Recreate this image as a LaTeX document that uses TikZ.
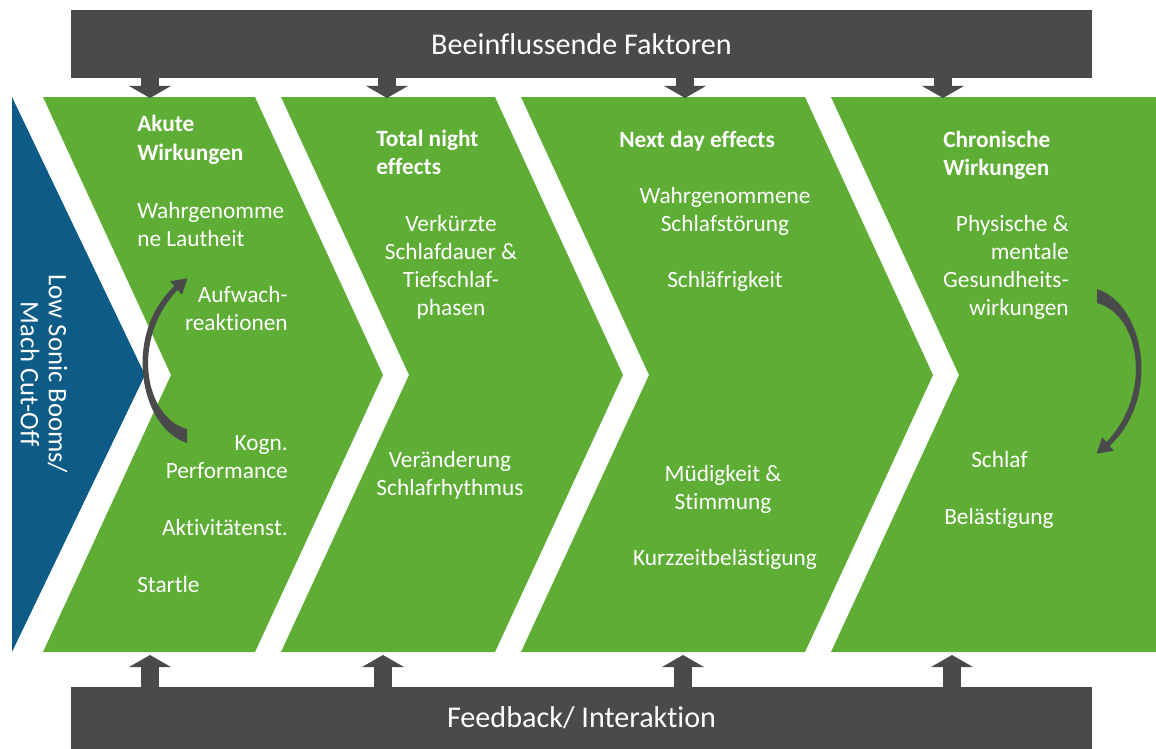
\documentclass[tikz,border=0pt]{standalone}
\usepackage{fontspec}
\setmainfont{Carlito}[Ligatures=NoCommon]
\usetikzlibrary{arrows.meta}

\definecolor{panelgreen}{HTML}{5EAD35}
\definecolor{boomblue}{HTML}{0C5C87}
\definecolor{bargray}{HTML}{4A4A4C}

\tikzset{
	bar/.style = {fill=bargray, text=white, font=\fontsize{22.6}{26}\selectfont, minimum width=765.75pt, minimum height=51pt, inner sep=0pt},
	blockarrow/.style = {draw=bargray, line width=13pt, -{Triangle[width=31pt,length=9pt]}},
	item/.style = {text=white, font=\fontsize{17.5}{21}\selectfont, inner sep=0pt},
	itemhead/.style = {item, font=\bfseries\fontsize{17.5}{21}\selectfont},
	bentarrow/.pic = {\fill [bargray] (0,0) .. controls (-47,-15) and (-65,-108) .. (-12.6,-156.9) -- (-16.8,-161.8) -- (0.4,-164.7) -- (-5.1,-148.2) -- (-9.4,-153.1) .. controls (-57,-103) and (-42,-25) .. (0,-14) -- cycle ;}
}

\begin{document}
\begin{tikzpicture} [x = 0.75pt, y = -0.75pt]
	\useasboundingbox (0,0) rectangle (1156,749) ;

	\fill [boomblue] (12,97) -- (145,375) -- (12,652) -- cycle ;
	\foreach \l/\r in {43/255, 281/495, 521/805}
		\fill [panelgreen] (\l,97) -- (\r,97) -- (\r+128,375) -- (\r,652) -- (\l,652) -- (\l+128,375) -- cycle ;
	\fill [panelgreen] (831,97) -- (1156,97) -- (1156,652) -- (831,652) -- (959,375) -- cycle ;

	\node [bar] (factors) at (581.5,44) {Beeinflussende Faktoren} ;
	\node [bar, minimum height=46.5pt] (feedback) at (581.5,718) {Feedback/ Interaktion} ;

	\foreach \x [count=\i] in {150,387,685,943} {
		\coordinate (in\i) at (\x,98) ;
		\draw [blockarrow] (factors.south -| in\i) to (in\i) ;
	}
	\foreach \x [count=\i] in {150,383,683,952} {
		\coordinate (out\i) at (\x,655) ;
		\draw [blockarrow] (feedback.north -| out\i) to (out\i) ;
	}

	\node [item, font=\fontsize{20}{21}\selectfont, rotate=-90, align=center] (sonic) at (44,374) {Low Sonic Booms/\\Mach Cut-Off} ;

	\node [itemhead, anchor=base west, align=left] (akute) at (137,160) {Akute\\Wirkungen} ;
	\node [item, anchor=base west, align=left] (lautheit) at (137,246) {Wahrgenomme\\ne Lautheit} ;
	\node [item, anchor=base east, align=right] (aufwach) at (288,330) {Aufwach-\\reaktionen} ;
	\node [item, anchor=base east, align=right] (kogn) at (288,478) {Kogn.\\Performance} ;
	\node [item, anchor=base east] (aktiv) at (288,535) {Aktivitätenst.} ;
	\node [item, anchor=base west] (startle) at (137,592) {Startle} ;

	\node [itemhead, anchor=base west, align=left] (totalnight) at (376,174) {Total night\\effects} ;
	\node [item, anchor=base, align=center] (verkuerzt) at (451,315) {Verkürzte\\Schlafdauer \&\\Tiefschlaf-\\phasen} ;
	\node [item, anchor=base, align=center] (rhythmus) at (450,495) {Veränderung\\Schlafrhythmus} ;

	\node [itemhead, anchor=base west] (nextday) at (619,147) {Next day effects} ;
	\node [item, anchor=base, align=center] (stoerung) at (725,231) {Wahrgenommene\\Schlafstörung} ;
	\node [item, anchor=base] (schlaefrig) at (725,287) {Schläfrigkeit} ;
	\node [item, anchor=base, align=center] (muedig) at (723,509) {Müdigkeit \&\\Stimmung} ;
	\node [item, anchor=base] (kurzzeit) at (725,565) {Kurzzeitbelästigung} ;

	\node [itemhead, anchor=base west, align=left] (chronisch) at (943,175) {Chronische\\Wirkungen} ;
	\node [item, anchor=base east, align=right] (gesundheit) at (1069,315) {Physische \&\\mentale\\Gesundheits-\\wirkungen} ;
	\node [item, anchor=base west] (schlaf) at (971,467) {Schlaf} ;
	\node [item, anchor=base west] (belaest) at (944,524) {Belästigung} ;

	\pic at (187,443) {bentarrow} ;
	\pic [rotate=180] at (1097,289) {bentarrow} ;
\end{tikzpicture}
\end{document}
